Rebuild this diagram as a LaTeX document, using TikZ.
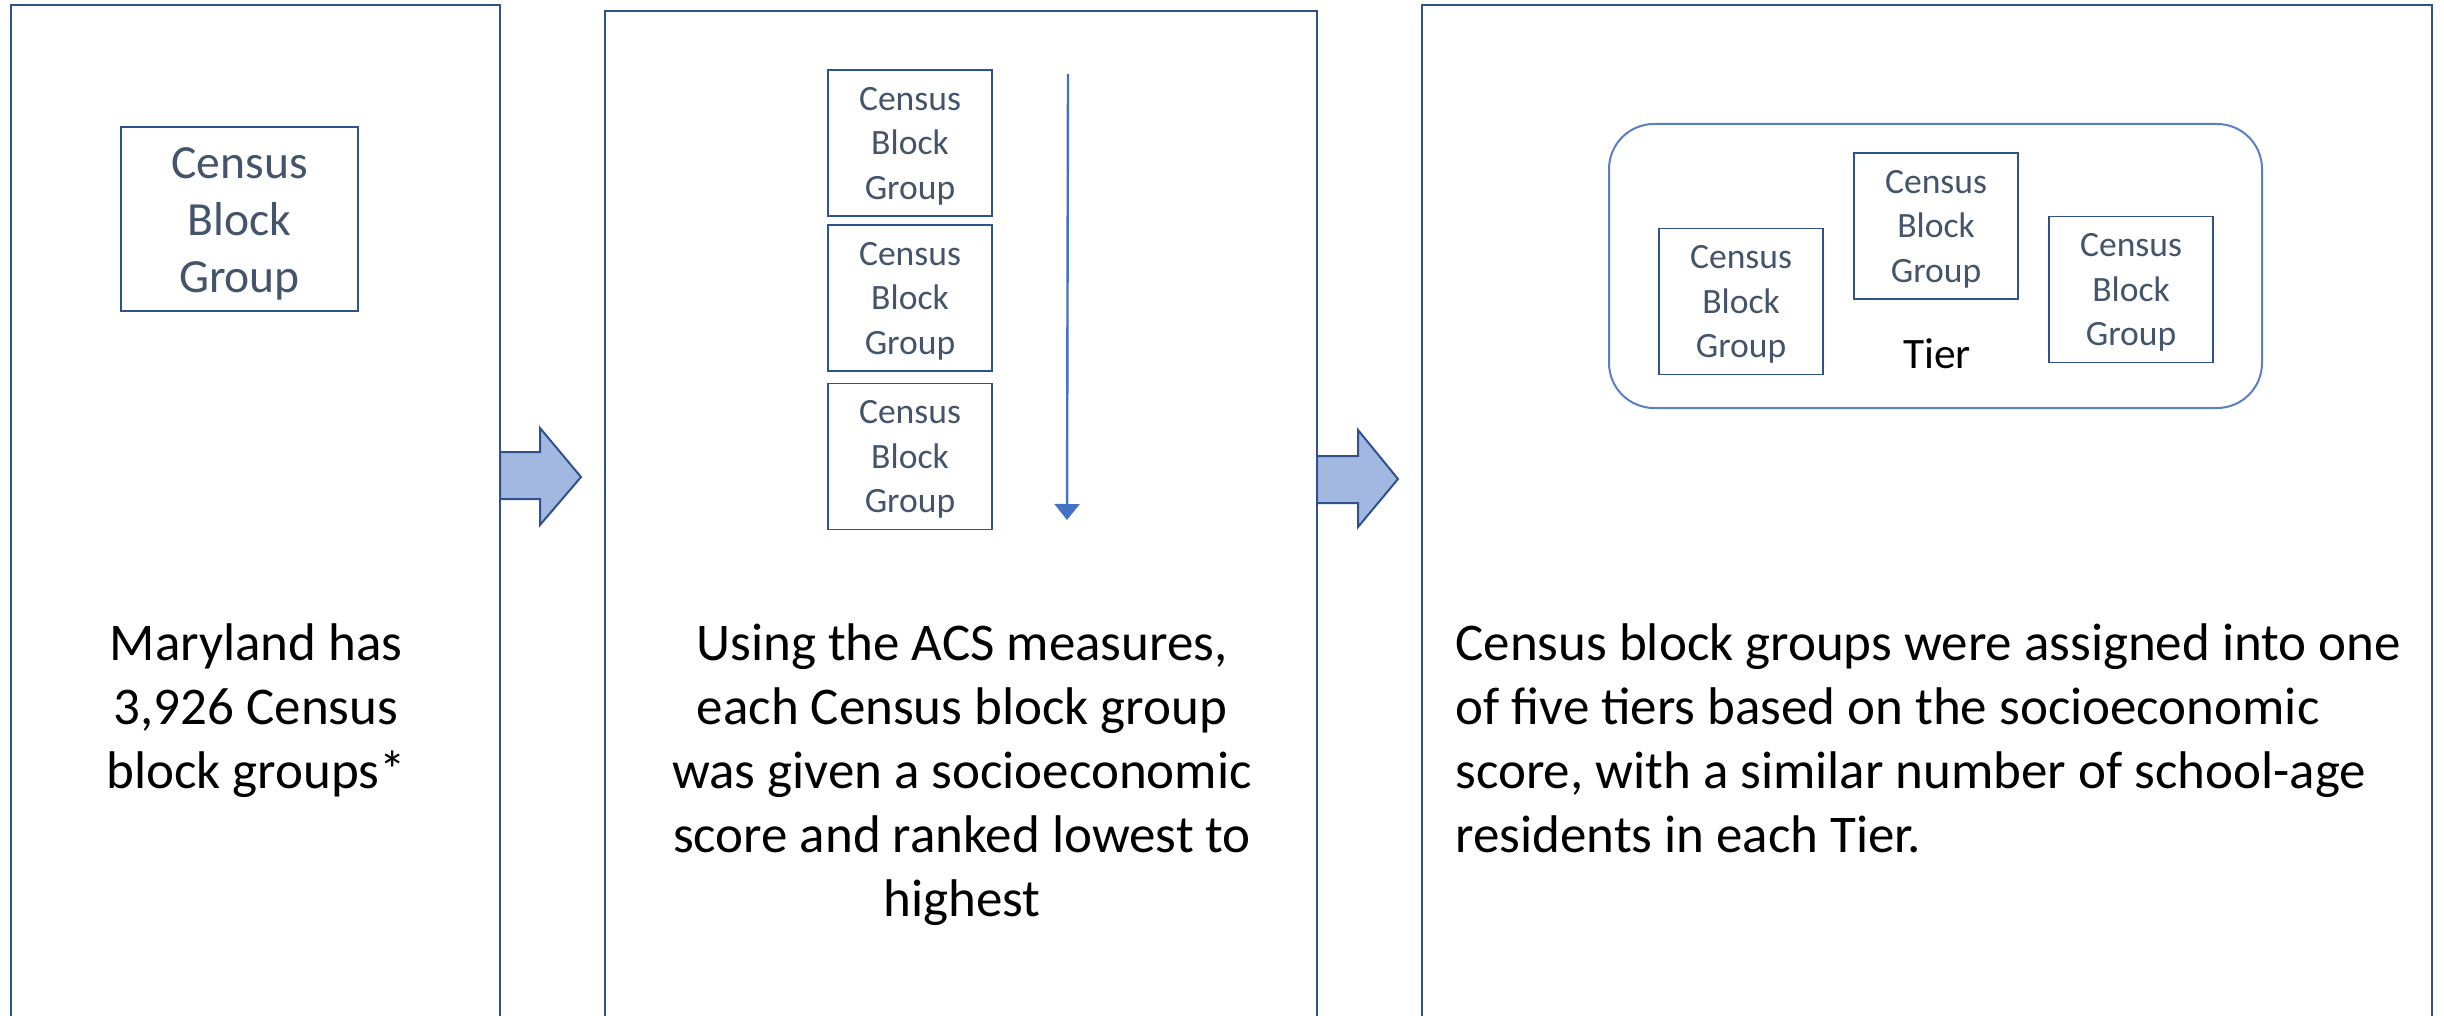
\documentclass[tikz,border=0pt]{standalone}
\usepackage{fontspec}
\setmainfont{Carlito}
\usetikzlibrary{arrows.meta}
\definecolor{panelblue}{HTML}{2F528F}
\definecolor{arrowfill}{HTML}{A2B8E0}
\definecolor{tierline}{HTML}{5B7FC0}
\definecolor{rankline}{HTML}{4472C4}
\definecolor{boxtext}{HTML}{44546A}
\newcommand{\cbgtext}[3]{\raisebox{-#3}[\height][\depth]{\fontsize{#1}{#2}\selectfont\begin{tabular}{@{}c@{}}Census\\Block\\Group\end{tabular}}}
\newcommand{\maintext}{\fontsize{26.5}{32}\selectfont}
\begin{document}
\begin{tikzpicture}[x=0.5pt,y=-0.5pt,
  panel/.style={draw=panelblue,line width=1.1pt},
  bigbox/.style={draw=panelblue,line width=1pt,minimum width=118.5pt,minimum height=92pt,inner sep=0pt,text=boxtext},
  smallbox/.style={draw=panelblue,line width=0.8pt,minimum width=82pt,minimum height=73pt,inner sep=0pt,text=boxtext},
  tierbox/.style={draw=tierline,line width=1pt,rounded corners=22.5pt,minimum width=326.5pt,minimum height=142pt,inner sep=0pt},
  blockarrow/.style={draw=panelblue,fill=arrowfill,line width=1pt,line join=miter},
  desc/.style={inner sep=0pt,text=black}]
\useasboundingbox (0,0) rectangle (2444,1016);
\begin{scope}
  \clip (0,0) rectangle (2444,1016);
  \draw[panel] (11,5) rectangle (500,1040);
  \draw[panel] (605,11) rectangle (1317,1040);
  \draw[panel] (1422,5) rectangle (2432,1040);
\end{scope}
% block arrows
\draw[blockarrow] (500,452) -- (540,452) -- (540,428) -- (581,477) -- (540,525) -- (540,499) -- (500,499) -- cycle;
\draw[blockarrow] (1317,456) -- (1358,456) -- (1358,430) -- (1398,479) -- (1358,527) -- (1358,503) -- (1317,503) -- cycle;
% panel 1
\node[bigbox] (cbgA) at (239.5,219) {\cbgtext{23.8}{28.5}{2.5pt}};
\node[desc,anchor=base] (txtA) at (256,660) {\maintext\begin{tabular}[t]{@{}c@{}}Maryland has\\3,926 Census\\block groups*\end{tabular}};
% panel 2
\node[smallbox] (rankA) at (910,143) {\cbgtext{17.8}{22.2}{1.5pt}};
\node[smallbox] (rankB) at (910,298) {\cbgtext{17.8}{22.2}{1.5pt}};
\node[smallbox] (rankC) at (910,456.5) {\cbgtext{17.8}{22.2}{1.5pt}};
\coordinate (rankTop) at (1068,74);
\coordinate (rankBot) at (1067,520);
\draw[draw=rankline,line width=1.2pt,-{Triangle[width=12.5pt,length=8pt]}] (rankTop) -- (rankBot);
\node[desc,anchor=base] (txtB) at (962,660) {\maintext\begin{tabular}[t]{@{}c@{}}Using the ACS measures,\\each Census block group\\was given a socioeconomic\\score and ranked lowest to\\highest\end{tabular}};
% panel 3
\node[tierbox] (tier) at (1935.5,266) {};
\node[smallbox] (tierA) at (1741,301.5) {\cbgtext{17.8}{22.2}{1.5pt}};
\node[smallbox] (tierB) at (1936,226) {\cbgtext{17.8}{22.2}{1.5pt}};
\node[smallbox] (tierC) at (2131,289.5) {\cbgtext{17.8}{22.2}{1.5pt}};
\node[inner sep=0pt,anchor=base] (tierlabel) at (1937,368) {\fontsize{21.7}{26}\selectfont Tier};
\node[desc,anchor=base west] (txtC) at (1455,660) {\maintext\begin{tabular}[t]{@{}l@{}}Census block groups were assigned into one\\of five tiers based on the socioeconomic\\score, with a similar number of school-age\\residents in each Tier.\end{tabular}};
\end{tikzpicture}
\end{document}
